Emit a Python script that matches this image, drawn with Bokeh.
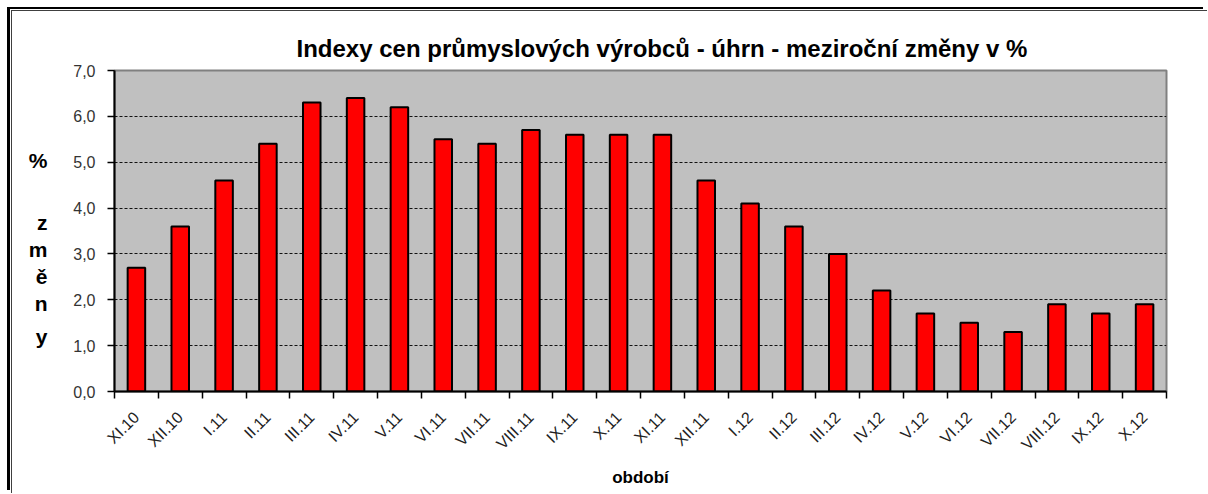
import math
from bokeh.plotting import figure
from bokeh.models import FixedTicker, LinearAxis, Range1d
from bokeh.embed import file_html
from bokeh.resources import INLINE

categories = ["XI.10", "XII.10", "I.11", "II.11", "III.11", "IV.11", "V.11", "VI.11",
              "VII.11", "VIII.11", "IX.11", "X.11", "XI.11", "XII.11", "I.12", "II.12",
              "III.12", "IV.12", "V.12", "VI.12", "VII.12", "VIII.12", "IX.12", "X.12"]
values = [2.7, 3.6, 4.6, 5.4, 6.3, 6.4, 6.2, 5.5, 5.4, 5.7, 5.6, 5.6,
          5.6, 4.6, 4.1, 3.6, 3.0, 2.2, 1.7, 1.5, 1.3, 1.9, 1.7, 1.9]
y_ticks = [0, 1, 2, 3, 4, 5, 6, 7]
y_tick_labels = ["0,0", "1,0", "2,0", "3,0", "4,0", "5,0", "6,0", "7,0"]
title_text = "Indexy cen průmyslových výrobců - úhrn - meziroční změny v %"
x_title = "období"
y_title_parts = ["%", "z", "m", "ě", "n", "y"]

FONT = "Liberation Sans"
n = len(categories)
centers = [i + 0.5 for i in range(n)]

# canvas geometry (canvas-relative pixels); canvas origin at page (12, 11)
W, H = 1196, 483
FL, FR, FT, FB = 102, 1154, 59, 380  # frame left/right/top/bottom
YMAX = 7


def px_to_y(page_py):
    # page pixel row -> y value, used only to place the stacked axis-title letters
    return (FB + 11 - page_py) / (FB - FT) * YMAX


p = figure(width=W, height=H, x_range=Range1d(0, n), y_range=Range1d(0, YMAX),
           output_backend="svg", toolbar_location=None,
           min_border_left=FL, min_border_right=W - FR,
           min_border_top=FT, min_border_bottom=H - FB)
p.styles = {"margin-left": "12px", "margin-top": "11px",
            "box-shadow": "-1px -1px 0 0 #404040, -2px -2px 0 0 white, -5px -4px 0 0 black"}

p.background_fill_color = "#C0C0C0"
p.border_fill_color = "white"
p.outline_line_color = "#808080"
p.outline_line_width = 2

p.vbar(x=centers, top=values, width=0.4, fill_color="#FF0000",
       line_color="black", line_width=2)

# title
p.title.text = title_text
p.title.align = "left"
p.title.offset = 182
p.title.standoff = 18
p.title.text_font = FONT
p.title.text_font_size = "24px"
p.title.text_font_style = "bold"
p.title.text_color = "black"

# grid
p.xgrid.grid_line_color = None
p.ygrid.ticker = FixedTicker(ticks=y_ticks)
p.ygrid.grid_line_color = "#111111"
p.ygrid.grid_line_dash = "3 2"
p.ygrid.grid_line_width = 1

# y axis
p.yaxis.ticker = FixedTicker(ticks=y_ticks)
p.yaxis.major_label_overrides = {t: l for t, l in zip(y_ticks, y_tick_labels)}
p.yaxis.major_label_text_font = FONT
p.yaxis.major_label_text_font_size = "16px"
p.yaxis.major_label_text_color = "#333333"
p.yaxis.major_tick_out = 7
p.yaxis.major_tick_in = 0
p.yaxis.minor_tick_line_color = None
p.yaxis.major_label_standoff = 12
p.yaxis.axis_line_color = "black"
p.yaxis.axis_line_width = 2
p.yaxis.major_tick_line_width = 1.5

# stacked y-axis title drawn as a label-only axis
letter_rows = [160, 222, 249, 276, 303, 336]
letter_pos = [px_to_y(r) for r in letter_rows]
yt = LinearAxis(ticker=FixedTicker(ticks=letter_pos),
                major_label_overrides={v: c for v, c in zip(letter_pos, y_title_parts)},
                axis_line_color=None, major_tick_line_color=None, minor_tick_line_color=None,
                major_tick_out=0, major_tick_in=0,
                major_label_text_font=FONT, major_label_text_font_size="21px",
                major_label_text_font_style="bold", major_label_text_color="black",
                major_label_text_align="center", major_label_standoff=23)
p.add_layout(yt, "left")

# x axis
p.xaxis.ticker = FixedTicker(ticks=centers, minor_ticks=list(range(n + 1)))
p.xaxis.major_label_overrides = {c: l for c, l in zip(centers, categories)}
p.xaxis.major_label_orientation = math.pi / 4
p.xaxis.major_label_text_font = FONT
p.xaxis.major_label_text_font_size = "16px"
p.xaxis.major_label_text_color = "#222222"
p.xaxis.major_tick_out = 0
p.xaxis.major_tick_in = 0
p.xaxis.minor_tick_out = 7
p.xaxis.minor_tick_in = 0
p.xaxis.minor_tick_line_color = "black"
p.xaxis.minor_tick_line_width = 1.5
p.xaxis.major_label_standoff = 16
p.xaxis.axis_line_color = "black"
p.xaxis.axis_line_width = 2
p.xaxis.axis_label = x_title
p.xaxis.axis_label_text_font = FONT
p.xaxis.axis_label_text_font_size = "17px"
p.xaxis.axis_label_text_font_style = "bold"
p.xaxis.axis_label_text_color = "black"
p.xaxis.axis_label_standoff = 6

open("out.html", "w").write(file_html(p, INLINE))
